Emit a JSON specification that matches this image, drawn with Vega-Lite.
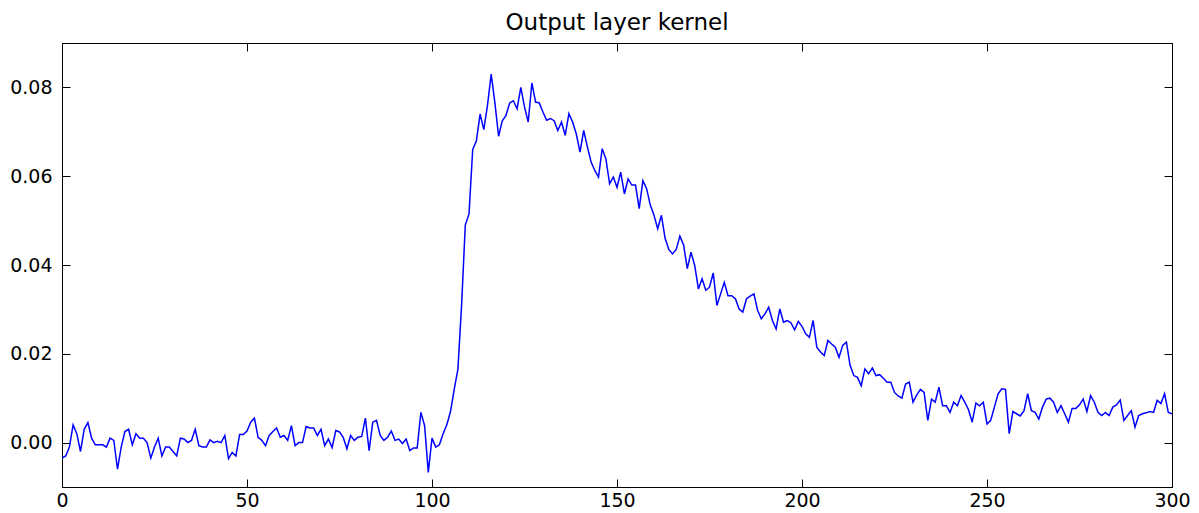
{
  "$schema": "https://vega.github.io/schema/vega-lite/v6.json",
  "autosize": "none",
  "width": 1110,
  "height": 444,
  "padding": {"left": 62, "top": 43, "right": 27, "bottom": 26},
  "background": "white",
  "title": {
    "text": "Output layer kernel",
    "font": "DejaVu Sans",
    "fontSize": 23,
    "fontWeight": "normal",
    "color": "black",
    "anchor": "middle",
    "offset": 8
  },
  "data": {
    "values": [
      {"x": 0, "w": -0.0035}, {"x": 1, "w": -0.003}, {"x": 2, "w": -0.001}, {"x": 3, "w": 0.004}, {"x": 4, "w": 0.002},
      {"x": 5, "w": -0.002}, {"x": 6, "w": 0.003}, {"x": 7, "w": 0.0045}, {"x": 8, "w": 0.001}, {"x": 9, "w": -0.0005},
      {"x": 10, "w": -0.0005}, {"x": 11, "w": -0.0005}, {"x": 12, "w": -0.001}, {"x": 13, "w": 0.001}, {"x": 14, "w": 0.0005},
      {"x": 15, "w": -0.006}, {"x": 16, "w": -0.001}, {"x": 17, "w": 0.0025}, {"x": 18, "w": 0.003}, {"x": 19, "w": -0.0005},
      {"x": 20, "w": 0.002}, {"x": 21, "w": 0.001}, {"x": 22, "w": 0.001}, {"x": 23, "w": 0.0}, {"x": 24, "w": -0.0035},
      {"x": 25, "w": -0.001}, {"x": 26, "w": 0.001}, {"x": 27, "w": -0.003}, {"x": 28, "w": -0.001}, {"x": 29, "w": -0.001},
      {"x": 30, "w": -0.002}, {"x": 31, "w": -0.003}, {"x": 32, "w": 0.001}, {"x": 33, "w": 0.0008}, {"x": 34, "w": 0.0},
      {"x": 35, "w": 0.0005}, {"x": 36, "w": 0.003}, {"x": 37, "w": -0.0007}, {"x": 38, "w": -0.001}, {"x": 39, "w": -0.001},
      {"x": 40, "w": 0.0006}, {"x": 41, "w": 0.0}, {"x": 42, "w": 0.0003}, {"x": 43, "w": 0.0}, {"x": 44, "w": 0.0016},
      {"x": 45, "w": -0.0036}, {"x": 46, "w": -0.0022}, {"x": 47, "w": -0.003}, {"x": 48, "w": 0.0018}, {"x": 49, "w": 0.0018},
      {"x": 50, "w": 0.0026}, {"x": 51, "w": 0.0046}, {"x": 52, "w": 0.0055}, {"x": 53, "w": 0.0012}, {"x": 54, "w": 0.0005},
      {"x": 55, "w": -0.0007}, {"x": 56, "w": 0.0016}, {"x": 57, "w": 0.0025}, {"x": 58, "w": 0.0033}, {"x": 59, "w": 0.0012},
      {"x": 60, "w": 0.0016}, {"x": 61, "w": 0.0005}, {"x": 62, "w": 0.0038}, {"x": 63, "w": -0.0007}, {"x": 64, "w": 0.0},
      {"x": 65, "w": 0.0}, {"x": 66, "w": 0.0036}, {"x": 67, "w": 0.0033}, {"x": 68, "w": 0.0033}, {"x": 69, "w": 0.0016},
      {"x": 70, "w": 0.003}, {"x": 71, "w": -0.0007}, {"x": 72, "w": 0.0008}, {"x": 73, "w": -0.0011}, {"x": 74, "w": 0.0027},
      {"x": 75, "w": 0.0024}, {"x": 76, "w": 0.0012}, {"x": 77, "w": -0.0014}, {"x": 78, "w": 0.0016}, {"x": 79, "w": 0.0005},
      {"x": 80, "w": 0.0012}, {"x": 81, "w": 0.0014}, {"x": 82, "w": 0.0055}, {"x": 83, "w": -0.0018}, {"x": 84, "w": 0.0046},
      {"x": 85, "w": 0.005}, {"x": 86, "w": 0.0016}, {"x": 87, "w": 0.0005}, {"x": 88, "w": 0.0012}, {"x": 89, "w": 0.0026},
      {"x": 90, "w": 0.0005}, {"x": 91, "w": 0.0008}, {"x": 92, "w": -0.0002}, {"x": 93, "w": 0.0008}, {"x": 94, "w": -0.0018},
      {"x": 95, "w": -0.0012}, {"x": 96, "w": -0.0012}, {"x": 97, "w": 0.0068}, {"x": 98, "w": 0.0038}, {"x": 99, "w": -0.0067},
      {"x": 100, "w": 0.001}, {"x": 101, "w": -0.001}, {"x": 102, "w": -0.0005}, {"x": 103, "w": 0.002}, {"x": 104, "w": 0.004},
      {"x": 105, "w": 0.007}, {"x": 106, "w": 0.012}, {"x": 107, "w": 0.0165}, {"x": 108, "w": 0.031}, {"x": 109, "w": 0.049},
      {"x": 110, "w": 0.0515}, {"x": 111, "w": 0.066}, {"x": 112, "w": 0.068}, {"x": 113, "w": 0.074}, {"x": 114, "w": 0.0705},
      {"x": 115, "w": 0.076}, {"x": 116, "w": 0.083}, {"x": 117, "w": 0.0765}, {"x": 118, "w": 0.069}, {"x": 119, "w": 0.0725},
      {"x": 120, "w": 0.0737}, {"x": 121, "w": 0.0765}, {"x": 122, "w": 0.077}, {"x": 123, "w": 0.0752}, {"x": 124, "w": 0.08},
      {"x": 125, "w": 0.0756}, {"x": 126, "w": 0.0722}, {"x": 127, "w": 0.081}, {"x": 128, "w": 0.0767}, {"x": 129, "w": 0.0765},
      {"x": 130, "w": 0.0744}, {"x": 131, "w": 0.0726}, {"x": 132, "w": 0.073}, {"x": 133, "w": 0.0725}, {"x": 134, "w": 0.0703},
      {"x": 135, "w": 0.0722}, {"x": 136, "w": 0.0692}, {"x": 137, "w": 0.0741}, {"x": 138, "w": 0.0722}, {"x": 139, "w": 0.0695},
      {"x": 140, "w": 0.0654}, {"x": 141, "w": 0.0703}, {"x": 142, "w": 0.0666}, {"x": 143, "w": 0.0632}, {"x": 144, "w": 0.0613},
      {"x": 145, "w": 0.0598}, {"x": 146, "w": 0.0662}, {"x": 147, "w": 0.0639}, {"x": 148, "w": 0.0583}, {"x": 149, "w": 0.0598},
      {"x": 150, "w": 0.0575}, {"x": 151, "w": 0.0609}, {"x": 152, "w": 0.056}, {"x": 153, "w": 0.0594}, {"x": 154, "w": 0.058},
      {"x": 155, "w": 0.058}, {"x": 156, "w": 0.0527}, {"x": 157, "w": 0.059}, {"x": 158, "w": 0.0572}, {"x": 159, "w": 0.0535},
      {"x": 160, "w": 0.0512}, {"x": 161, "w": 0.0482}, {"x": 162, "w": 0.0512}, {"x": 163, "w": 0.046}, {"x": 164, "w": 0.0435},
      {"x": 165, "w": 0.0425}, {"x": 166, "w": 0.0435}, {"x": 167, "w": 0.0465}, {"x": 168, "w": 0.0445}, {"x": 169, "w": 0.0392},
      {"x": 170, "w": 0.0429}, {"x": 171, "w": 0.0399}, {"x": 172, "w": 0.0346}, {"x": 173, "w": 0.0369}, {"x": 174, "w": 0.0343},
      {"x": 175, "w": 0.035}, {"x": 176, "w": 0.0382}, {"x": 177, "w": 0.0309}, {"x": 178, "w": 0.0335}, {"x": 179, "w": 0.0361},
      {"x": 180, "w": 0.0331}, {"x": 181, "w": 0.0331}, {"x": 182, "w": 0.0324}, {"x": 183, "w": 0.0301}, {"x": 184, "w": 0.0294},
      {"x": 185, "w": 0.0324}, {"x": 186, "w": 0.033}, {"x": 187, "w": 0.0335}, {"x": 188, "w": 0.0298}, {"x": 189, "w": 0.0279},
      {"x": 190, "w": 0.029}, {"x": 191, "w": 0.0305}, {"x": 192, "w": 0.0275}, {"x": 193, "w": 0.0256}, {"x": 194, "w": 0.0301},
      {"x": 195, "w": 0.0271}, {"x": 196, "w": 0.0275}, {"x": 197, "w": 0.027}, {"x": 198, "w": 0.0254}, {"x": 199, "w": 0.0273},
      {"x": 200, "w": 0.0262}, {"x": 201, "w": 0.0245}, {"x": 202, "w": 0.0237}, {"x": 203, "w": 0.0275}, {"x": 204, "w": 0.0215},
      {"x": 205, "w": 0.0204}, {"x": 206, "w": 0.0196}, {"x": 207, "w": 0.023}, {"x": 208, "w": 0.0222}, {"x": 209, "w": 0.0215},
      {"x": 210, "w": 0.0192}, {"x": 211, "w": 0.0219}, {"x": 212, "w": 0.0226}, {"x": 213, "w": 0.0174}, {"x": 214, "w": 0.0151},
      {"x": 215, "w": 0.0147}, {"x": 216, "w": 0.0128}, {"x": 217, "w": 0.0166}, {"x": 218, "w": 0.0155}, {"x": 219, "w": 0.0168},
      {"x": 220, "w": 0.0151}, {"x": 221, "w": 0.0153}, {"x": 222, "w": 0.0145}, {"x": 223, "w": 0.0136}, {"x": 224, "w": 0.0136},
      {"x": 225, "w": 0.0113}, {"x": 226, "w": 0.0105}, {"x": 227, "w": 0.01}, {"x": 228, "w": 0.0132}, {"x": 229, "w": 0.0136},
      {"x": 230, "w": 0.0091}, {"x": 231, "w": 0.0107}, {"x": 232, "w": 0.012}, {"x": 233, "w": 0.0113}, {"x": 234, "w": 0.005},
      {"x": 235, "w": 0.0098}, {"x": 236, "w": 0.0091}, {"x": 237, "w": 0.0125}, {"x": 238, "w": 0.0083}, {"x": 239, "w": 0.0083},
      {"x": 240, "w": 0.0068}, {"x": 241, "w": 0.0091}, {"x": 242, "w": 0.0083}, {"x": 243, "w": 0.0106}, {"x": 244, "w": 0.0091},
      {"x": 245, "w": 0.0074}, {"x": 246, "w": 0.0046}, {"x": 247, "w": 0.0089}, {"x": 248, "w": 0.0083}, {"x": 249, "w": 0.0091},
      {"x": 250, "w": 0.0042}, {"x": 251, "w": 0.005}, {"x": 252, "w": 0.008}, {"x": 253, "w": 0.011}, {"x": 254, "w": 0.0121},
      {"x": 255, "w": 0.012}, {"x": 256, "w": 0.002}, {"x": 257, "w": 0.007}, {"x": 258, "w": 0.0065}, {"x": 259, "w": 0.006},
      {"x": 260, "w": 0.0072}, {"x": 261, "w": 0.011}, {"x": 262, "w": 0.0072}, {"x": 263, "w": 0.0068}, {"x": 264, "w": 0.0053},
      {"x": 265, "w": 0.008}, {"x": 266, "w": 0.0098}, {"x": 267, "w": 0.01}, {"x": 268, "w": 0.0091}, {"x": 269, "w": 0.0068},
      {"x": 270, "w": 0.0083}, {"x": 271, "w": 0.0065}, {"x": 272, "w": 0.0046}, {"x": 273, "w": 0.0077}, {"x": 274, "w": 0.0077},
      {"x": 275, "w": 0.0085}, {"x": 276, "w": 0.0098}, {"x": 277, "w": 0.007}, {"x": 278, "w": 0.0106}, {"x": 279, "w": 0.0091},
      {"x": 280, "w": 0.0068}, {"x": 281, "w": 0.0061}, {"x": 282, "w": 0.0068}, {"x": 283, "w": 0.0061}, {"x": 284, "w": 0.008},
      {"x": 285, "w": 0.0085}, {"x": 286, "w": 0.0096}, {"x": 287, "w": 0.005}, {"x": 288, "w": 0.0061}, {"x": 289, "w": 0.0072},
      {"x": 290, "w": 0.0035}, {"x": 291, "w": 0.0061}, {"x": 292, "w": 0.0065}, {"x": 293, "w": 0.0067}, {"x": 294, "w": 0.007},
      {"x": 295, "w": 0.0068}, {"x": 296, "w": 0.0095}, {"x": 297, "w": 0.0088}, {"x": 298, "w": 0.011}, {"x": 299, "w": 0.0068},
      {"x": 300, "w": 0.0065}
    ]
  },
  "resolve": {"axis": {"x": "independent", "y": "independent"}},
  "layer": [
    {
      "mark": {"type": "line", "strokeOpacity": 0},
      "encoding": {
        "x": {"field": "x", "type": "quantitative", "scale": {"domain": [0, 300], "nice": false, "zero": false},
              "axis": {"orient": "top", "values": [0, 50, 100, 150, 200, 250, 300], "labels": false, "title": null}},
        "y": {"field": "w", "type": "quantitative", "scale": {"domain": [-0.01, 0.09], "nice": false, "zero": false},
              "axis": {"orient": "right", "values": [0, 0.02, 0.04, 0.06, 0.08], "labels": false, "title": null}}
      }
    },
    {
      "mark": {"type": "line", "color": "#0000ff", "strokeWidth": 1.5, "clip": true},
      "encoding": {
        "x": {"field": "x", "type": "quantitative", "scale": {"domain": [0, 300], "nice": false, "zero": false},
              "axis": {"orient": "bottom", "values": [0, 50, 100, 150, 200, 250, 300], "title": null, "labelPadding": 12}},
        "y": {"field": "w", "type": "quantitative", "scale": {"domain": [-0.01, 0.09], "nice": false, "zero": false},
              "axis": {"orient": "left", "values": [0, 0.02, 0.04, 0.06, 0.08], "format": ".2f", "title": null, "labelPadding": 18}}
      }
    }
  ],
  "config": {
    "view": {"stroke": "black", "strokeWidth": 1},
    "axis": {
      "grid": false,
      "domainColor": "black",
      "domainWidth": 1,
      "tickColor": "black",
      "tickSize": -8,
      "tickWidth": 1,
      "labelColor": "black",
      "labelFont": "DejaVu Sans",
      "labelFontSize": 19,
      "labelFlush": false,
      "labelOverlap": false,
      "labelBound": false
    }
  }
}
